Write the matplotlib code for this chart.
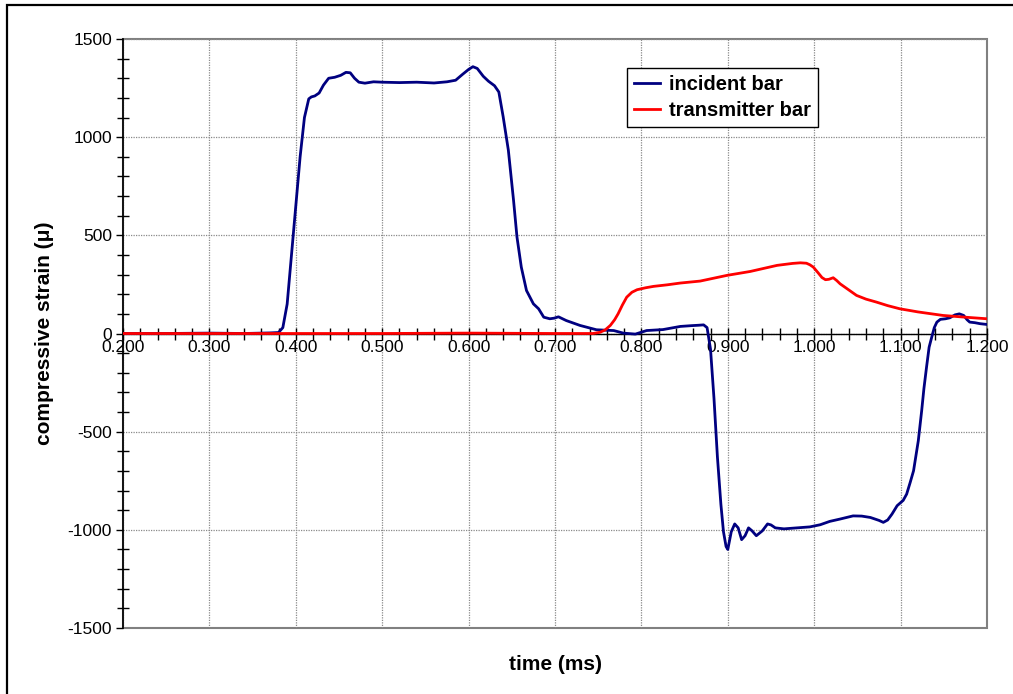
import matplotlib
matplotlib.use("Agg")
import matplotlib.pyplot as plt
from matplotlib.ticker import MultipleLocator, FormatStrFormatter
from matplotlib.patches import Rectangle

# Incident bar strain signal (time in ms, compressive strain in micro-strain)
t_incident = [0.200, 0.250, 0.300, 0.340, 0.370, 0.380, 0.385, 0.390, 0.395,
              0.400, 0.405, 0.410, 0.415, 0.418, 0.422, 0.427, 0.432, 0.438,
              0.445, 0.452, 0.458, 0.463, 0.468, 0.473, 0.480, 0.490, 0.500,
              0.520, 0.540, 0.560, 0.575, 0.585, 0.593, 0.600, 0.605, 0.610,
              0.617, 0.623, 0.630, 0.635, 0.640, 0.646, 0.652, 0.656, 0.661,
              0.667, 0.675, 0.681, 0.687, 0.694, 0.699, 0.704, 0.713, 0.729,
              0.748, 0.768, 0.779, 0.793, 0.806, 0.825, 0.845, 0.858, 0.866,
              0.872, 0.876, 0.880, 0.884, 0.888, 0.892, 0.895, 0.898, 0.900,
              0.904, 0.908, 0.912, 0.916, 0.920, 0.924, 0.928, 0.933, 0.940,
              0.946, 0.950, 0.955, 0.965, 0.980, 0.995, 1.007, 1.018, 1.030,
              1.045, 1.055, 1.065, 1.075, 1.080, 1.085, 1.090, 1.096, 1.103,
              1.107, 1.111, 1.115, 1.1205, 1.1244, 1.127, 1.130, 1.133, 1.136,
              1.139, 1.142, 1.146, 1.152, 1.157, 1.163, 1.168, 1.173, 1.177,
              1.180, 1.186, 1.192, 1.200]
s_incident = [0, 0, 2, 0, 3, 5, 30, 150, 400,
              650, 900, 1100, 1195, 1205, 1210, 1225, 1265, 1300,
              1305, 1315, 1330, 1328, 1300, 1280, 1275, 1282, 1280,
              1278, 1280, 1276, 1282, 1290, 1320, 1345, 1359, 1350,
              1310, 1285, 1262, 1230, 1104, 934, 679, 491, 338,
              219, 151, 126, 83, 75, 78, 85, 66, 41,
              19, 15, 2, -3, 15, 20, 36, 40, 42,
              44, 30, -80, -330, -630, -870, -1010, -1085, -1100,
              -1010, -970, -990, -1050, -1030, -990, -1005, -1030, -1005,
              -970, -975, -990, -995, -990, -985, -974, -957, -945,
              -929, -930, -937, -952, -962, -950, -920, -877, -850,
              -818, -760, -699, -546, -393, -280, -172, -70, -19,
              30, 58, 72, 75, 80, 95, 100, 92, 70,
              58, 55, 50, 46]

# Transmitter bar strain signal
t_transmitter = [0.200, 0.300, 0.400, 0.500, 0.600, 0.700, 0.744, 0.752, 0.758,
                 0.764, 0.769, 0.773, 0.778, 0.783, 0.789, 0.795, 0.805, 0.814,
                 0.830, 0.845, 0.868, 0.899, 0.926, 0.957, 0.975, 0.984, 0.991,
                 0.995, 0.999, 1.004, 1.009, 1.013, 1.017, 1.022, 1.026, 1.030,
                 1.040, 1.049, 1.060, 1.072, 1.085, 1.099, 1.120, 1.149, 1.175,
                 1.200]
s_transmitter = [0, 0, 0, 0, 2, 0, 0, 6, 18,
                 41, 70, 100, 145, 185, 210, 223, 233, 240,
                 248, 257, 267, 296, 316, 347, 357, 360, 358,
                 350, 338, 312, 285, 274, 276, 284, 270, 253,
                 222, 194, 175, 160, 142, 126, 110, 92, 83,
                 75]

x_min, x_max = 0.2, 1.2
y_min, y_max = -1500, 1500

W, H = 1013, 694
plt.rcParams['font.family'] = ['Liberation Sans', 'DejaVu Sans']
plt.rcParams['axes.unicode_minus'] = False
fig = plt.figure(figsize=(W / 100, H / 100), dpi=100)

ax = fig.add_axes([123 / W, 1 - 628 / H, (987 - 123) / W, (628 - 39) / H])
ax.set_xlim(x_min, x_max)
ax.set_ylim(y_min, y_max)

navy = '#000080'
red = '#FF0000'
ax.plot(t_incident, s_incident, color=navy, lw=2.0, solid_joinstyle='round',
        label='incident bar', zorder=4)
ax.plot(t_transmitter, s_transmitter, color=red, lw=2.0, solid_joinstyle='round',
        label='transmitter bar', zorder=5)

# Axes: x axis crosses at zero strain
for s in ('top', 'right'):
    ax.spines[s].set_visible(False)
ax.spines['bottom'].set_position(('data', 0))
ax.spines['bottom'].set_color('black')
ax.spines['bottom'].set_linewidth(1.0)
ax.spines['bottom'].set_zorder(3)
ax.spines['left'].set_linewidth(1.2)
ax.spines['left'].set_zorder(3)

# plot area frame
ax.add_patch(Rectangle((0, 0), 1, 1, transform=ax.transAxes, fill=False,
                       edgecolor='#808080', lw=1.5, zorder=2, clip_on=False))

ax.xaxis.set_major_locator(MultipleLocator(0.1))
ax.xaxis.set_minor_locator(MultipleLocator(0.02))
ax.xaxis.set_major_formatter(FormatStrFormatter('%.3f'))
ax.yaxis.set_major_locator(MultipleLocator(500))
ax.yaxis.set_minor_locator(MultipleLocator(100))

ax.tick_params(axis='x', which='both', direction='inout', length=8, width=1,
               labelsize=12.5, pad=1)
ax.tick_params(axis='y', which='major', direction='out', length=5, width=1,
               labelsize=12.5, pad=3)
ax.tick_params(axis='y', which='minor', direction='inout', length=8, width=1)

ax.grid(True, which='major', color='#8a8a8a', lw=0.9, linestyle=(0, (1, 1)),
        zorder=1)
ax.set_axisbelow(False)
for gl in ax.get_xgridlines() + ax.get_ygridlines():
    gl.set_zorder(1)

ax.set_xlabel('time (ms)', fontsize=15, fontweight='bold')
ax.xaxis.set_label_coords(0.5, -0.045)
ax.set_ylabel('compressive strain (μ)', fontsize=15, fontweight='bold')
ax.yaxis.set_label_coords(-0.08, 0.5)

leg = ax.legend(loc='upper left', bbox_to_anchor=((627 - 123) / 864, (628 - 68) / 589),
                frameon=True, fancybox=False, edgecolor='black', framealpha=1,
                prop={'size': 14.5, 'weight': 'bold'}, handlelength=1.3,
                handletextpad=0.45, borderpad=0.35, labelspacing=0.35,
                borderaxespad=0)
leg.get_frame().set_linewidth(1.0)
leg.set_zorder(6)

# outer chart border
fig.add_artist(Rectangle((7 / W, -0.05), 1.1, 1 - 5 / H + 0.05,
                         transform=fig.transFigure, fill=False,
                         edgecolor='black', lw=1.6))

fig.savefig('out.png', dpi=100)
